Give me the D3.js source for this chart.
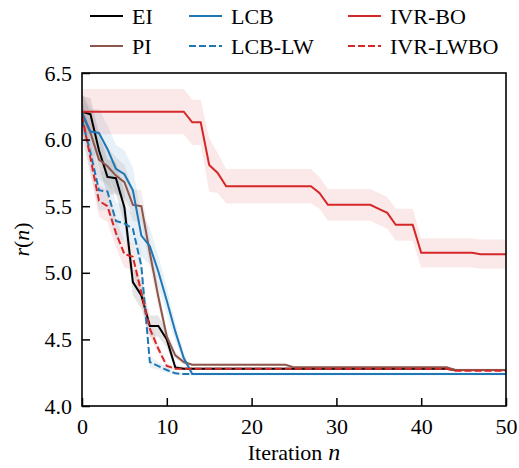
<!DOCTYPE html>
<html lang="en">
<head>
<meta charset="UTF-8">
<title>r(n) vs iteration</title>
<script src="https://cdn.jsdelivr.net/npm/d3@7"></script>
<style>
    body { margin: 0; background: #fff; }
    svg { display: block; }
</style>
</head>
<body>
<script>
    // iterations 0..50
    const iterations = [0,1,2,3,4,5,6,7,8,9,10,11,12,13,14,15,16,17,18,19,20,21,22,23,24,25,
        26,27,28,29,30,31,32,33,34,35,36,37,38,39,40,41,42,43,44,45,46,47,48,49,50];

    // mean r(n) per method
    const eiMean = [6.21,6.19,5.92,5.72,5.71,5.49,4.93,4.83,4.60,4.60,4.50,4.29,
        4.28,4.28,4.28,4.28,4.28,4.28,4.28,4.28,4.28,4.28,4.28,4.28,4.28,4.28,4.28,4.28,4.28,4.28,4.28,4.28,
        4.28,4.28,4.28,4.28,4.28,4.28,4.28,4.28,4.28,4.28,4.28,4.28,
        4.27,4.27,4.27,4.27,4.27,4.27,4.27];
    const piMean = [6.20,6.05,5.85,5.80,5.73,5.68,5.51,5.50,5.15,4.82,4.52,4.38,4.33,
        4.31,4.31,4.31,4.31,4.31,4.31,4.31,4.31,4.31,4.31,4.31,4.31,
        4.29,4.29,4.29,4.29,4.29,4.29,4.29,4.29,4.29,4.29,4.29,4.29,4.29,4.29,4.29,4.29,4.29,4.29,4.29,
        4.27,4.27,4.27,4.27,4.27,4.27,4.27];
    const lcbMean = [6.20,6.06,6.05,5.93,5.78,5.74,5.62,5.28,5.20,5.01,4.79,4.56,4.36,
        4.24,4.24,4.24,4.24,4.24,4.24,4.24,4.24,4.24,4.24,4.24,4.24,4.24,4.24,4.24,4.24,4.24,4.24,4.24,
        4.24,4.24,4.24,4.24,4.24,4.24,4.24,4.24,4.24,4.24,4.24,4.24,4.24,4.24,4.24,4.24,4.24,4.24,4.24];
    const lcbLwMean = [6.15,5.90,5.62,5.61,5.39,5.37,5.33,5.05,4.33,4.30,4.27,4.245,
        4.24,4.24,4.24,4.24,4.24,4.24,4.24,4.24,4.24,4.24,4.24,4.24,4.24,4.24,4.24,4.24,4.24,4.24,4.24,4.24,
        4.24,4.24,4.24,4.24,4.24,4.24,4.24,4.24,4.24,4.24,4.24,4.24,4.24,4.24,4.24,4.24,4.24,4.24,4.24];
    const ivrBoMean = [6.21,6.21,6.21,6.21,6.21,6.21,6.21,6.21,6.21,6.21,6.21,6.21,6.21,
        6.13,6.13,5.81,5.75,
        5.65,5.65,5.65,5.65,5.65,5.65,5.65,5.65,5.65,5.65,5.65,
        5.60,5.51,5.51,5.51,5.51,5.51,5.51,5.48,5.45,5.36,5.36,5.36,
        5.15,5.15,5.15,5.15,5.15,5.15,5.15,5.14,5.14,5.14,5.14];
    const ivrLwboMean = [6.18,5.86,5.54,5.50,5.30,5.14,5.12,4.85,4.58,4.43,4.30,
        4.28,4.28,4.28,4.28,4.28,4.28,4.28,4.28,4.28,4.28,4.28,4.28,4.28,4.28,4.28,4.28,4.28,4.28,4.28,
        4.28,4.28,4.28,4.28,4.28,4.28,4.28,4.28,4.28,4.28,4.28,4.28,4.28,4.28,
        4.265,4.265,4.265,4.265,4.265,4.265,4.265];

    // spread (shaded band half-width)
    const eiStd = [0.12,0.12,0.13,0.13,0.12,0.12,0.10,0.10,0.08,0.08,0.06,0.02,
        0.01,0.01,0.01,0.01,0.01,0.01,0.01,0.01,0.01,0.01,0.01,0.01,0.01,0.01,0.01,0.01,0.01,0.01,0.01,0.01,
        0.01,0.01,0.01,0.01,0.01,0.01,0.01,0.01,0.01,0.01,0.01,0.01,0.01,0.01,0.01,0.01,0.01,0.01,0.01];
    const piStd = [0.15,0.15,0.15,0.14,0.14,0.13,0.12,0.12,0.10,0.08,0.05,0.03,0.02,
        0.01,0.01,0.01,0.01,0.01,0.01,0.01,0.01,0.01,0.01,0.01,0.01,0.01,0.01,0.01,0.01,0.01,0.01,0.01,
        0.01,0.01,0.01,0.01,0.01,0.01,0.01,0.01,0.01,0.01,0.01,0.01,0.01,0.01,0.01,0.01,0.01,0.01,0.01];
    const lcbStd = [0.15,0.17,0.18,0.18,0.18,0.18,0.17,0.16,0.14,0.12,0.10,0.07,0.04,
        0.01,0.01,0.01,0.01,0.01,0.01,0.01,0.01,0.01,0.01,0.01,0.01,0.01,0.01,0.01,0.01,0.01,0.01,0.01,
        0.01,0.01,0.01,0.01,0.01,0.01,0.01,0.01,0.01,0.01,0.01,0.01,0.01,0.01,0.01,0.01,0.01,0.01,0.01];
    const lcbLwStd = [0.15,0.15,0.15,0.14,0.14,0.13,0.12,0.10,0.04,0.03,0.02,0.01,
        0.01,0.01,0.01,0.01,0.01,0.01,0.01,0.01,0.01,0.01,0.01,0.01,0.01,0.01,0.01,0.01,0.01,0.01,0.01,0.01,
        0.01,0.01,0.01,0.01,0.01,0.01,0.01,0.01,0.01,0.01,0.01,0.01,0.01,0.01,0.01,0.01,0.01,0.01,0.01];
    const ivrBoStd = [0.17,0.17,0.17,0.17,0.17,0.17,0.17,0.17,0.17,0.17,0.17,0.17,0.17,
        0.17,0.17,0.20,0.15,
        0.13,0.13,0.13,0.13,0.13,0.13,0.13,0.13,0.13,0.13,0.13,
        0.12,0.12,0.12,0.12,0.12,0.12,0.12,0.12,0.12,0.12,0.12,0.12,
        0.11,0.11,0.11,0.11,0.11,0.11,0.11,0.11,0.11,0.11,0.11];
    const ivrLwboStd = [0.12,0.12,0.12,0.12,0.11,0.10,0.10,0.08,0.06,0.04,0.02,
        0.01,0.01,0.01,0.01,0.01,0.01,0.01,0.01,0.01,0.01,0.01,0.01,0.01,0.01,0.01,0.01,0.01,0.01,0.01,
        0.01,0.01,0.01,0.01,0.01,0.01,0.01,0.01,0.01,0.01,0.01,0.01,0.01,0.01,
        0.01,0.01,0.01,0.01,0.01,0.01,0.01];

    const methodNames = ["EI", "PI", "LCB", "LCB-LW", "IVR-BO", "IVR-LWBO"];
    const methodColors = ["#000000", "#8c564b", "#1f77b4", "#1f77b4", "#d62728", "#d62728"];
    const methodDashed = [false, false, false, true, false, true];
    const means = [eiMean, piMean, lcbMean, lcbLwMean, ivrBoMean, ivrLwboMean];
    const stds = [eiStd, piStd, lcbStd, lcbLwStd, ivrBoStd, ivrLwboStd];

    const xTicks = [0, 10, 20, 30, 40, 50];
    const yTicks = [4.0, 4.5, 5.0, 5.5, 6.0, 6.5];

    const W = 519, H = 468;
    const margin = {left: 82, right: 13, top: 73, bottom: 62};
    const serif = '"Liberation Serif", "Times New Roman", serif';

    const svg = d3.select("body").append("svg")
        .attr("width", W)
        .attr("height", H);

    const x = d3.scaleLinear().domain([0, 50]).range([margin.left, W - margin.right]);
    const y = d3.scaleLinear().domain([4.0, 6.5]).range([H - margin.bottom, margin.top]);

    svg.append("defs").append("clipPath").attr("id", "plotClip")
        .append("rect")
        .attr("x", margin.left).attr("y", margin.top)
        .attr("width", x(50) - x(0)).attr("height", y(4) - y(6.5));

    const plot = svg.append("g").attr("clip-path", "url(#plotClip)");

    // shaded bands
    methodNames.forEach((name, i) => {
        const area = d3.area()
            .x((d, j) => x(iterations[j]))
            .y0((d, j) => y(means[i][j] - stds[i][j]))
            .y1((d, j) => y(means[i][j] + stds[i][j]));
        plot.append("path")
            .datum(means[i])
            .attr("d", area)
            .attr("fill", methodColors[i])
            .attr("fill-opacity", 0.1)
            .attr("stroke", "none");
    });

    // mean lines
    methodNames.forEach((name, i) => {
        const line = d3.line()
            .x((d, j) => x(iterations[j]))
            .y(d => y(d));
        plot.append("path")
            .datum(means[i])
            .attr("d", line)
            .attr("fill", "none")
            .attr("stroke", methodColors[i])
            .attr("stroke-width", 2)
            .attr("stroke-dasharray", methodDashed[i] ? "7,3" : null);
    });

    // axes with inward ticks
    const xAxis = svg.append("g")
        .attr("transform", `translate(0,${y(4)})`)
        .call(d3.axisBottom(x).tickValues(xTicks).tickFormat(d3.format("d")).tickSizeInner(-8).tickSizeOuter(0).tickPadding(12));
    const yAxis = svg.append("g")
        .attr("transform", `translate(${x(0)},0)`)
        .call(d3.axisLeft(y).tickValues(yTicks).tickFormat(d3.format(".1f")).tickSizeInner(-8).tickSizeOuter(0).tickPadding(10));

    [xAxis, yAxis].forEach(ax => {
        ax.select(".domain").remove();
        ax.selectAll(".tick line").attr("stroke", "#000").attr("stroke-width", 1.5);
        ax.selectAll(".tick text")
            .attr("fill", "#000")
            .style("font-family", serif)
            .style("font-size", "22px");
    });

    // frame
    svg.append("rect")
        .attr("x", x(0)).attr("y", y(6.5))
        .attr("width", x(50) - x(0)).attr("height", y(4) - y(6.5))
        .attr("fill", "none")
        .attr("stroke", "#000")
        .attr("stroke-width", 1.6);

    // axis labels
    const xl = svg.append("text")
        .attr("x", (x(0) + x(50)) / 2)
        .attr("y", 460)
        .attr("text-anchor", "middle")
        .style("font-family", serif)
        .style("font-size", "22px");
    xl.append("tspan").text("Iteration");
    xl.append("tspan").attr("dx", 6).style("font-style", "italic").style("font-size", "24px").text("n");

    const yl = svg.append("text")
        .attr("transform", `translate(29,${(y(4) + y(6.5)) / 2}) rotate(-90)`)
        .attr("text-anchor", "middle")
        .style("font-family", serif)
        .style("font-size", "22px");
    yl.append("tspan").style("font-style", "italic").text("r");
    yl.append("tspan").text("(");
    yl.append("tspan").style("font-style", "italic").text("n");
    yl.append("tspan").text(")");

    // legend, 3 columns filled column-wise
    const legendCols = [90, 189, 348];
    const legendRows = [16, 46];
    methodNames.forEach((name, i) => {
        const cx = legendCols[Math.floor(i / 2)];
        const cy = legendRows[i % 2];
        svg.append("line")
            .attr("x1", cx).attr("x2", cx + 33)
            .attr("y1", cy).attr("y2", cy)
            .attr("stroke", methodColors[i])
            .attr("stroke-width", 2)
            .attr("stroke-dasharray", methodDashed[i] ? "7,3" : null);
        svg.append("text")
            .attr("x", cx + 42)
            .attr("y", cy + 7.5)
            .style("font-family", serif)
            .style("font-size", "22px")
            .text(name);
    });
</script>
</body>
</html>
